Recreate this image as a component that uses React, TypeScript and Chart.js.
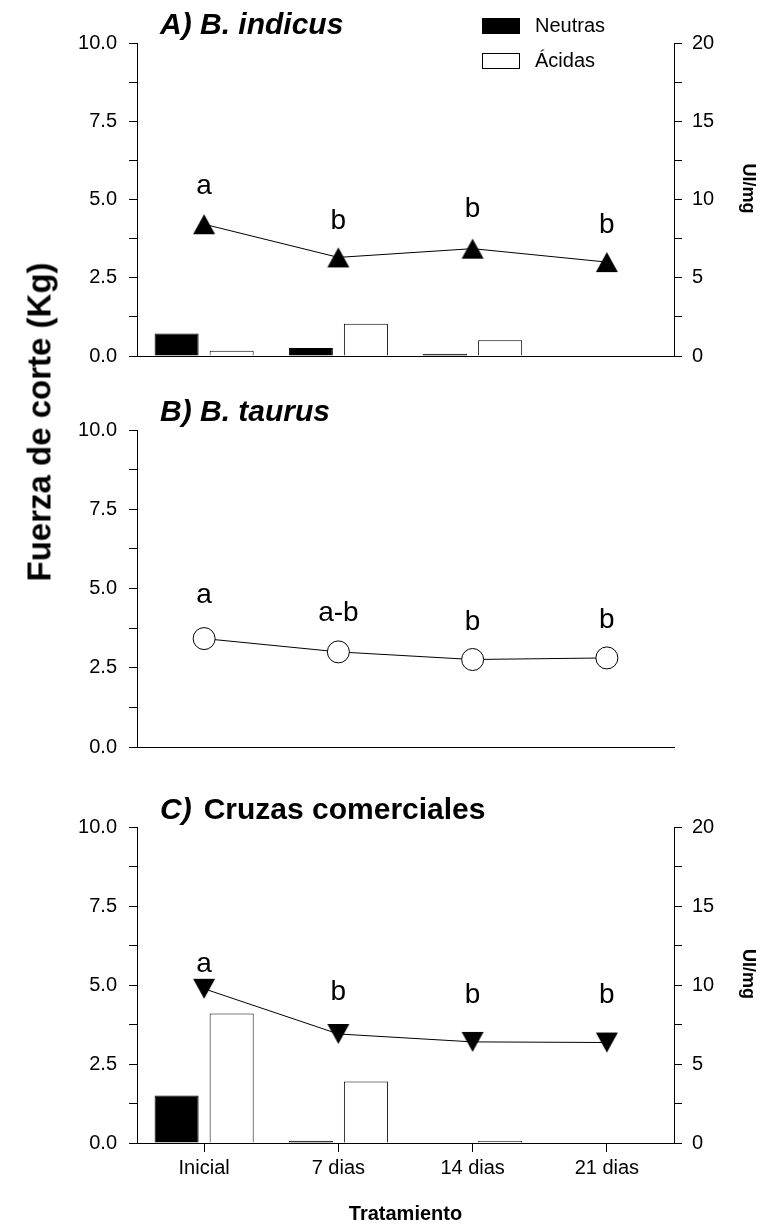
import React, { useEffect, useRef } from 'react';
import { Chart, registerables } from 'chart.js';

Chart.register(...registerables);

// ---------- data ----------
const categories = ['Inicial', '7 dias', '14 dias', '21 dias'];

// Panel A – B. indicus
const indicusFuerza = [4.21, 3.15, 3.43, 3.0];
const indicusNeutras = [1.43, 0.51, 0.15, 0];
const indicusAcidas = [0.34, 2.06, 1.01, 0];
const indicusLetters = ['a', 'b', 'b', 'b'];
const indicusLetterPos = [5.41, 4.31, 4.69, 4.18];

// Panel B – B. taurus
const taurusFuerza = [3.42, 3.0, 2.76, 2.81];
const taurusLetters = ['a', 'a-b', 'b', 'b'];
const taurusLetterPos = [4.79, 4.21, 3.95, 4.0];

// Panel C – Cruzas comerciales
const cruzasFuerza = [4.88, 3.45, 3.2, 3.18];
const cruzasNeutras = [3.01, 0.15, 0, 0];
const cruzasAcidas = [8.19, 3.89, 0.13, 0];
const cruzasLetters = ['a', 'b', 'b', 'b'];
const cruzasLetterPos = [5.66, 4.77, 4.68, 4.68];

// axes
const leftMax = 10;
const leftStep = 1.25;
const leftLabelStep = 2.5;
const rightMax = 20;
const rightStep = 2.5;
const rightLabelStep = 5;

const seriesNames = ['Neutras', 'Ácidas'];
const yTitle = 'Fuerza de corte (Kg)';
const y1Title = 'UI/mg';
const xTitle = 'Tratamiento';

// ---------- layout ----------
const FONT = "'Liberation Sans', Arial, Helvetica, sans-serif";
const W = 772;
const PLOT_LEFT = 137;
const PLOT_RIGHT = 674;

function makeTriangle(down: boolean) {
  const c = document.createElement('canvas');
  c.width = 24;
  c.height = 22;
  const g = c.getContext('2d')!;
  g.fillStyle = '#000';
  g.beginPath();
  if (!down) {
    g.moveTo(12, 1);
    g.lineTo(23, 21);
    g.lineTo(1, 21);
  } else {
    g.moveTo(1, 1);
    g.lineTo(23, 1);
    g.lineTo(12, 21);
  }
  g.closePath();
  g.fill();
  return c;
}

const isMultiple = (v: number, step: number) => Math.abs(v / step - Math.round(v / step)) < 1e-6;

type TitlePart = { text: string; style: string; gap?: number };

type PanelSpec = {
  key: string;
  canvasTop: number;
  canvasHeight: number;
  areaTop: number;
  areaBottom: number;
  fuerza: number[];
  neutras?: number[];
  acidas?: number[];
  letters: string[];
  letterPos: number[];
  marker: 'up' | 'down' | 'circle';
  title: TitlePart[];
  titleBaseline: number;
  legend: boolean;
  xLabels: boolean;
};

const panels: PanelSpec[] = [
  {
    key: 'A',
    canvasTop: 0,
    canvasHeight: 380,
    areaTop: 43,
    areaBottom: 357,
    fuerza: indicusFuerza,
    neutras: indicusNeutras,
    acidas: indicusAcidas,
    letters: indicusLetters,
    letterPos: indicusLetterPos,
    marker: 'up',
    title: [{ text: 'A) B. indicus', style: 'italic bold' }],
    titleBaseline: 34,
    legend: true,
    xLabels: false,
  },
  {
    key: 'B',
    canvasTop: 380,
    canvasHeight: 400,
    areaTop: 50,
    areaBottom: 367,
    fuerza: taurusFuerza,
    letters: taurusLetters,
    letterPos: taurusLetterPos,
    marker: 'circle',
    title: [{ text: 'B) B. taurus', style: 'italic bold' }],
    titleBaseline: 41,
    legend: false,
    xLabels: false,
  },
  {
    key: 'C',
    canvasTop: 780,
    canvasHeight: 452,
    areaTop: 47,
    areaBottom: 363,
    fuerza: cruzasFuerza,
    neutras: cruzasNeutras,
    acidas: cruzasAcidas,
    letters: cruzasLetters,
    letterPos: cruzasLetterPos,
    marker: 'down',
    title: [
      { text: 'C)', style: 'italic bold' },
      { text: 'Cruzas comerciales', style: 'bold', gap: 12 },
    ],
    titleBaseline: 39,
    legend: false,
    xLabels: true,
  },
];

function lettersPlugin(labels: string[], pos: number[]) {
  return {
    id: 'sigLetters',
    afterDatasetsDraw(chart: any) {
      const { ctx } = chart;
      const x = chart.scales.x;
      const y = chart.scales.y;
      ctx.save();
      ctx.font = `28px ${FONT}`;
      ctx.fillStyle = '#000';
      ctx.textAlign = 'center';
      ctx.textBaseline = 'middle';
      labels.forEach((t, i) => ctx.fillText(t, x.getPixelForValue(i), y.getPixelForValue(pos[i])));
      ctx.restore();
    },
  };
}

function titlePlugin(parts: TitlePart[], baseline: number) {
  return {
    id: 'panelTitle',
    afterDraw(chart: any) {
      const { ctx } = chart;
      ctx.save();
      ctx.fillStyle = '#000';
      ctx.textAlign = 'left';
      ctx.textBaseline = 'alphabetic';
      let x = chart.chartArea.left + 23;
      parts.forEach((p) => {
        x += p.gap || 0;
        ctx.font = `${p.style} 30px ${FONT}`;
        ctx.fillText(p.text, x, baseline);
        x += ctx.measureText(p.text).width;
      });
      ctx.restore();
    },
  };
}

// right-axis title (UI/mg), rotated clockwise like the reference
const rightTitlePlugin = {
  id: 'rightTitle',
  afterDraw(chart: any) {
    const s = chart.scales.y1;
    if (!s) return;
    const { ctx } = chart;
    ctx.save();
    ctx.translate(748, (s.top + s.bottom) / 2 - 11);
    ctx.rotate(Math.PI / 2);
    ctx.font = `bold 18px ${FONT}`;
    ctx.fillStyle = '#000';
    ctx.textAlign = 'center';
    ctx.textBaseline = 'middle';
    ctx.fillText(y1Title, 0, 0);
    ctx.restore();
  },
};

const legendPlugin = {
  id: 'boxLegend',
  afterDraw(chart: any) {
    const { ctx } = chart;
    const bars = chart.data.datasets.filter((d: any) => d.type === 'bar');
    ctx.save();
    ctx.font = `20px ${FONT}`;
    ctx.textAlign = 'left';
    ctx.textBaseline = 'middle';
    bars.forEach((d: any, i: number) => {
      const top = 18 + i * 35;
      ctx.fillStyle = d.backgroundColor;
      ctx.fillRect(482, top, 38, 16);
      ctx.strokeStyle = '#000';
      ctx.lineWidth = 1;
      ctx.strokeRect(482.5, top + 0.5, 37, 15);
      ctx.fillStyle = '#000';
      ctx.fillText(d.label, 535, top + 8);
    });
    ctx.restore();
  },
};

function buildConfig(p: PanelSpec): any {
  const hasRight = !!p.neutras;
  const pointStyle = p.marker === 'circle' ? 'circle' : makeTriangle(p.marker === 'down');
  const datasets: any[] = [
    {
      type: 'line',
      label: yTitle,
      data: p.fuerza,
      yAxisID: 'y',
      borderColor: '#000',
      borderWidth: 1,
      pointStyle,
      pointRadius: 11,
      pointBackgroundColor: '#fff',
      pointBorderColor: '#000',
      pointBorderWidth: 1,
      tension: 0,
      fill: false,
      order: 0,
    },
  ];
  if (p.neutras && p.acidas) {
    datasets.push({
      type: 'bar',
      label: seriesNames[0],
      data: p.neutras,
      yAxisID: 'y1',
      backgroundColor: '#000',
      borderColor: '#000',
      borderWidth: 1,
      categoryPercentage: 0.82,
      barPercentage: 0.8,
      order: 1,
    });
    datasets.push({
      type: 'bar',
      label: seriesNames[1],
      data: p.acidas,
      yAxisID: 'y1',
      backgroundColor: '#fff',
      borderColor: '#000',
      borderWidth: 1,
      categoryPercentage: 0.82,
      barPercentage: 0.8,
      order: 1,
    });
  }

  const xHeight = p.canvasHeight - p.areaBottom;
  const scales: any = {
    x: {
      type: 'category',
      offset: true,
      grid: p.xLabels
        ? { display: true, drawOnChartArea: false, drawTicks: true, tickLength: 9, offset: false, color: '#000', lineWidth: 1 }
        : { display: false },
      border: { display: true, color: '#000', width: 1 },
      ticks: p.xLabels
        ? { display: true, padding: 4, color: '#000', font: { size: 20, family: FONT }, maxRotation: 0, autoSkip: false }
        : { display: false },
      title: p.xLabels
        ? { display: true, text: xTitle, color: '#000', font: { size: 20, weight: 'bold', family: FONT }, padding: { top: 0, bottom: 6 } }
        : { display: false },
      afterFit: (s: any) => {
        s.height = xHeight;
      },
    },
    y: {
      type: 'linear',
      position: 'left',
      min: 0,
      max: leftMax,
      ticks: {
        stepSize: leftStep,
        autoSkip: false,
        padding: 12,
        color: '#000',
        font: { size: 20, family: FONT },
        callback: (v: any) => (isMultiple(Number(v), leftLabelStep) ? Number(v).toFixed(1) : ''),
      },
      grid: { display: true, drawOnChartArea: false, drawTicks: true, tickLength: 8, color: '#000', lineWidth: 1 },
      border: { display: true, color: '#000', width: 1 },
      afterFit: (s: any) => {
        s.width = PLOT_LEFT;
      },
    },
  };
  if (hasRight) {
    scales.y1 = {
      type: 'linear',
      position: 'right',
      min: 0,
      max: rightMax,
      ticks: {
        stepSize: rightStep,
        autoSkip: false,
        padding: 10,
        color: '#000',
        font: { size: 20, family: FONT },
        callback: (v: any) => (isMultiple(Number(v), rightLabelStep) ? String(Math.round(Number(v))) : ''),
      },
      grid: { display: true, drawOnChartArea: false, drawTicks: true, tickLength: 8, color: '#000', lineWidth: 1 },
      border: { display: true, color: '#000', width: 1 },
      title: { display: false, text: y1Title },
      afterFit: (s: any) => {
        s.width = W - PLOT_RIGHT;
      },
    };
  }

  const plugins: any[] = [lettersPlugin(p.letters, p.letterPos), titlePlugin(p.title, p.titleBaseline), rightTitlePlugin];
  if (p.legend) plugins.push(legendPlugin);

  return {
    type: 'bar',
    data: { labels: categories, datasets },
    options: {
      responsive: false,
      animation: false,
      devicePixelRatio: 1,
      events: [],
      layout: { padding: { top: p.areaTop, left: 0, right: hasRight ? 0 : W - PLOT_RIGHT, bottom: 0 } },
      plugins: { legend: { display: false }, tooltip: { enabled: false }, title: { display: false } },
      scales,
    },
    plugins,
  };
}

function Panel({ spec }: { spec: PanelSpec }) {
  const ref = useRef<HTMLCanvasElement>(null);
  useEffect(() => {
    const chart = new Chart(ref.current!, buildConfig(spec));
    return () => chart.destroy();
  }, [spec]);
  return (
    <canvas
      ref={ref}
      width={W}
      height={spec.canvasHeight}
      style={{ position: 'absolute', left: 0, top: spec.canvasTop, width: W, height: spec.canvasHeight, display: 'block' }}
    />
  );
}

export default function App() {
  return (
    <div style={{ position: 'absolute', left: 0, top: 0, width: W, height: 1232, background: '#fff', overflow: 'hidden' }}>
      {panels.map((p) => (
        <Panel key={p.key} spec={p} />
      ))}
      <div
        style={{
          position: 'absolute',
          left: 39,
          top: 422,
          transform: 'translate(-50%, -50%) rotate(-90deg)',
          fontFamily: FONT,
          fontWeight: 'bold',
          fontSize: 33,
          whiteSpace: 'nowrap',
          color: '#000',
          lineHeight: 1,
        }}
      >
        {yTitle}
      </div>
    </div>
  );
}
